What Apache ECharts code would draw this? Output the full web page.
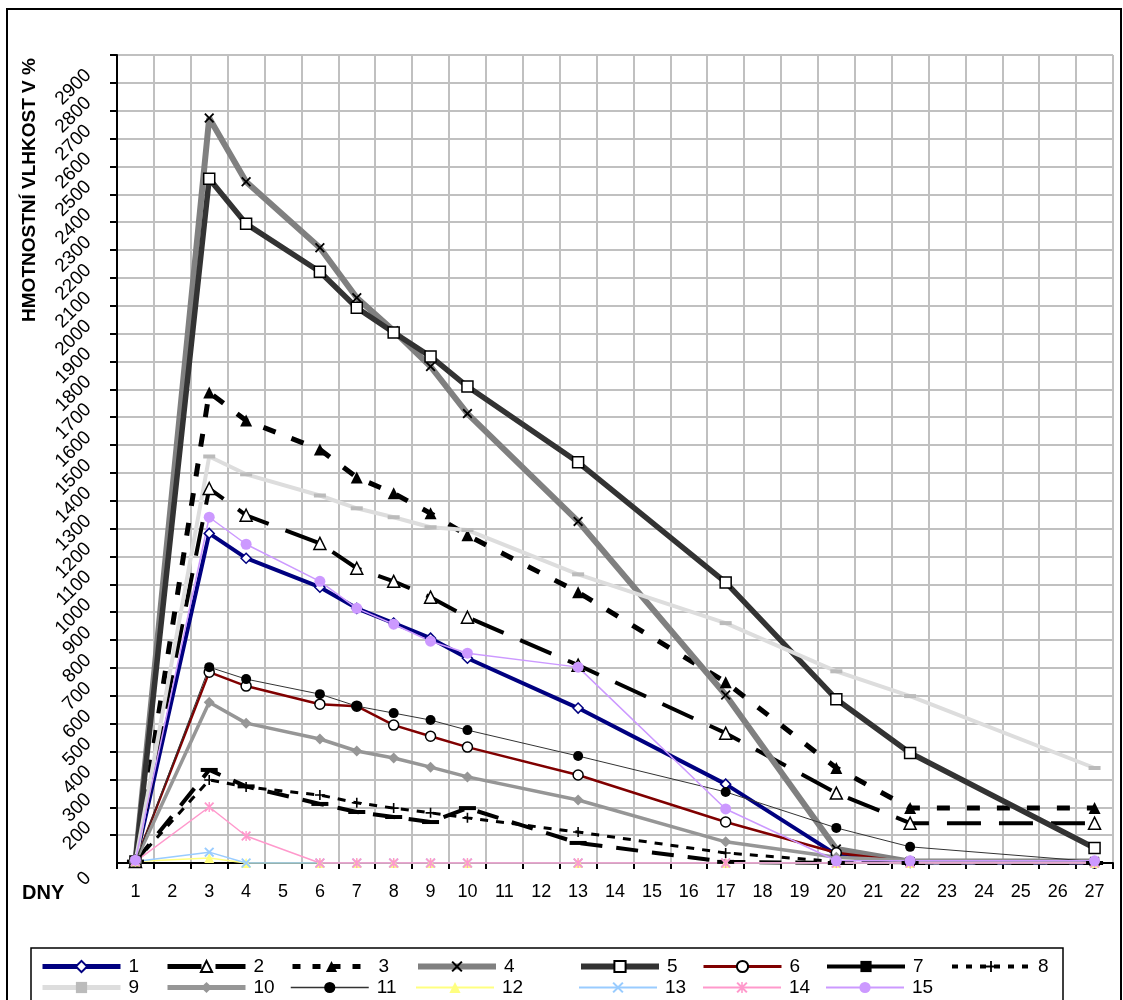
<!DOCTYPE html>
<html>
<head>
<meta charset="utf-8">
<script src="https://cdn.jsdelivr.net/npm/echarts@6/dist/echarts.min.js"></script>
<style>html,body{margin:0;padding:0;background:#fff}#c{width:1123px;height:1000px}</style>
</head>
<body>
<div id="c"></div>
<script>
// ---- data ----
const categories = ['1','2','3','4','5','6','7','8','9','10','11','12','13','14','15','16','17','18','19','20','21','22','23','24','25','26','27'];
const measuredDays = [1, 3, 4, 6, 7, 8, 9, 10, 13, 17, 20, 22, 27];
const s1  = [105, 1283, 1194, 1090, 1014, 961, 907, 835, 656, 383, 130, 102, 100];
const s2  = [105, 1444, 1348, 1247, 1158, 1111, 1054, 982, 810, 566, 351, 243, 243];
const s3  = [105, 1789, 1688, 1584, 1484, 1427, 1355, 1276, 1072, 749, 441, 297, 297];
const s4  = [105, 2774, 2545, 2308, 2129, 2010, 1882, 1713, 1326, 703, 150, 105, 105];
const s5  = [105, 2556, 2394, 2222, 2093, 2004, 1918, 1810, 1538, 1107, 688, 495, 154];
const s6  = [105, 785, 735, 670, 663, 595, 555, 516, 416, 247, 137, 103, 100];
const s7  = [105, 434, 375, 312, 283, 265, 247, 297, 172, 104, 100, 100, 100];
const s8  = [105, 398, 373, 344, 316, 297, 280, 262, 211, 136, 105, 100, 100];
const s9  = [105, 1559, 1495, 1419, 1373, 1341, 1305, 1295, 1136, 961, 788, 699, 441];
const s10 = [105, 677, 602, 545, 502, 477, 444, 409, 326, 176, 121, 108, 105];
const s11 = [105, 803, 760, 706, 663, 638, 613, 577, 484, 355, 226, 158, 105];
const s12 = [105, 118, 100, 100, 100, 100, 100, 100, 100, 100, 100, 100, 100];
const s13 = [105, 139, 100, 100, 100, 100, 100, 100, 100, 100, 100, 100, 100];
const s14 = [105, 301, 197, 100, 100, 100, 100, 100, 100, 100, 100, 100, 100];
const s15 = [110, 1341, 1244, 1111, 1014, 957, 896, 853, 803, 294, 108, 108, 108];
const seriesNames = ['1','2','3','4','5','6','7','8','9','10','11','12','13','14','15'];
const seriesValues = [s1,s2,s3,s4,s5,s6,s7,s8,s9,s10,s11,s12,s13,s14,s15];
const yTitle = 'HMOTNOSTNÍ VLHKOST V %';
const xTitle = 'DNY';

// ---- styles ----
const X_PATH = 'path://M0,1.3 L1.3,0 L5,3.7 L8.7,0 L10,1.3 L6.3,5 L10,8.7 L8.7,10 L5,6.3 L1.3,10 L0,8.7 L3.7,5 Z';
const PLUS_PATH = 'path://M4.2,0 L5.8,0 L5.8,4.2 L10,4.2 L10,5.8 L5.8,5.8 L5.8,10 L4.2,10 L4.2,5.8 L0,5.8 L0,4.2 L4.2,4.2 Z';
const STAR_PATH = 'path://M0,1.3 L1.3,0 L5,3.7 L8.7,0 L10,1.3 L6.3,5 L10,8.7 L8.7,10 L5,6.3 L1.3,10 L0,8.7 L3.7,5 Z M4.3,0 L5.7,0 L5.7,10 L4.3,10 Z';
const styles = [
  {c:'#000080', w:4, t:'solid', lt:'solid', lw:5, sym:'diamond', size:10, fill:'#fff', border:'#000080', bw:1.5},
  {c:'#000000', w:4, t:[34,18], lt:[34,14], lw:5, sym:'triangle', size:12, fill:'#fff', border:'#000', bw:1.5},
  {c:'#000000', w:5, t:[13,17], lt:[8,12], lw:5, sym:'triangle', size:12, fill:'#000', border:'#000', bw:0},
  {c:'#808080', w:6, t:'solid', lt:'solid', lw:6, sym:X_PATH, size:10, fill:'#000', border:'#000', bw:0},
  {c:'#333333', w:5.5, t:'solid', lt:'solid', lw:6, sym:'rect', size:11, fill:'#fff', border:'#000', bw:1.5},
  {c:'#800000', w:2.5, t:'solid', lt:'solid', lw:3, sym:'circle', size:10, fill:'#fff', border:'#000', bw:1.5},
  {c:'#000000', w:4, t:[22,14], lt:'solid', lw:4, sym:'rect', size:[17,4], fill:'#000', border:'#000', bw:0},
  {c:'#000000', w:3, t:[8,8], lt:[6,8], lw:4, sym:PLUS_PATH, size:10, fill:'#000', border:'#000', bw:0},
  {c:'#dddddd', w:4, t:'solid', lt:'solid', lw:5, sym:'rect', size:[12,4], fill:'#bbbbbb', border:'#bbbbbb', bw:0},
  {c:'#969696', w:3.5, t:'solid', lt:'solid', lw:5, sym:'diamond', size:11, fill:'#969696', border:'#969696', bw:0},
  {c:'#333333', w:1, t:'solid', lt:'solid', lw:1.5, sym:'circle', size:10, fill:'#000', border:'#000', bw:0},
  {c:'#ffff80', w:1.5, t:'solid', lt:'solid', lw:2, sym:'triangle', size:10, fill:'#ffff80', border:'#ffff80', bw:0},
  {c:'#99ccff', w:1.5, t:'solid', lt:'solid', lw:2, sym:X_PATH, size:10, fill:'#99ccff', border:'#99ccff', bw:0},
  {c:'#ff99cc', w:1.5, t:'solid', lt:'solid', lw:2, sym:STAR_PATH, size:10, fill:'#ff99cc', border:'#ff99cc', bw:0},
  {c:'#cc99ff', w:1.5, t:'solid', lt:'solid', lw:2, sym:'circle', size:11, fill:'#cc99ff', border:'#cc99ff', bw:0}
];
const legendCols = [40, 165, 290, 415, 578, 702, 825, 950];
const legendRows = [957, 978];

const series = seriesValues.map((vals, i) => {
  const st = styles[i];
  return {
    name: seriesNames[i],
    type: 'line',
    data: measuredDays.map((d, j) => [String(d), vals[j]]),
    symbol: st.sym,
    symbolSize: st.size,
    showAllSymbol: true,
    lineStyle: {color: st.c, width: st.w, type: st.t},
    itemStyle: {color: st.fill, borderColor: st.border, borderWidth: st.bw},
    emphasis: {disabled: true},
    z: 2
  };
});

const legends = seriesNames.map((n, i) => ({
  data: [n],
  left: legendCols[i < 8 ? i : i - 8],
  top: legendRows[i < 8 ? 0 : 1],
  itemWidth: 78, itemHeight: 14, itemGap: 0, padding: 0,
  lineStyle: {color: styles[i].c, width: styles[i].lw, type: styles[i].lt},
  textStyle: {fontSize: 19, color: '#000', fontFamily: 'Liberation Sans, Arial, sans-serif', padding: [0,0,0,3]},
  selectedMode: false
}));

const chart = echarts.init(document.getElementById('c'), null, {renderer: 'canvas'});
chart.setOption({
  animation: false,
  backgroundColor: '#fff',
  textStyle: {fontFamily: 'Liberation Sans, Arial, sans-serif'},
  grid: {left: 117, right: 10, top: 55, bottom: 137, show: true, borderColor: '#999', borderWidth: 1, containLabel: false},
  xAxis: {
    type: 'category',
    data: categories,
    boundaryGap: true,
    axisLine: {lineStyle: {color: '#000', width: 2}},
    axisTick: {show: true, length: 6, lineStyle: {color: '#000', width: 2}, interval: 0},
    axisLabel: {interval: 0, fontSize: 18, color: '#000', margin: 20},
    splitLine: {show: true, interval: 0, lineStyle: {color: '#c0c0c0', width: 2}}
  },
  yAxis: {
    type: 'value',
    min: 100, max: 3000, interval: 100,
    axisLine: {show: true, lineStyle: {color: '#000', width: 2}},
    axisTick: {show: true, length: 7, lineStyle: {color: '#000', width: 2}},
    axisLabel: {
      rotate: 45, fontSize: 19, color: '#000', margin: 18,
      verticalAlign: 'bottom', lineHeight: 30,
      formatter: v => (v >= 3000 ? '' : String(v))
    },
    splitLine: {show: true, lineStyle: {color: '#c0c0c0', width: 2}}
  },
  legend: legends,
  graphic: [
    {type: 'rect', shape: {x: 7, y: 9, width: 1114, height: 1000}, style: {fill: 'none', stroke: '#000', lineWidth: 2}, silent: true, z: -10},
    {type: 'rect', shape: {x: 31, y: 948, width: 1032, height: 70}, style: {fill: '#fff', stroke: '#000', lineWidth: 1.5}, silent: true, z: -5},
    {type: 'text', x: 30, y: 190, rotation: Math.PI / 2, style: {text: yTitle, font: 'bold 19px Liberation Sans, Arial, sans-serif', fill: '#000', align: 'center', verticalAlign: 'middle'}, silent: true},
    {type: 'text', x: 22, y: 893, style: {text: xTitle, font: 'bold 20px Liberation Sans, Arial, sans-serif', fill: '#000', align: 'left', verticalAlign: 'middle'}, silent: true},
    {type: 'text', x: 88, y: 875, rotation: Math.PI / 4, style: {text: '0', font: '19px Liberation Sans, Arial, sans-serif', fill: '#000', align: 'right', verticalAlign: 'middle'}, silent: true}
  ],
  series: series
});
</script>
</body>
</html>
